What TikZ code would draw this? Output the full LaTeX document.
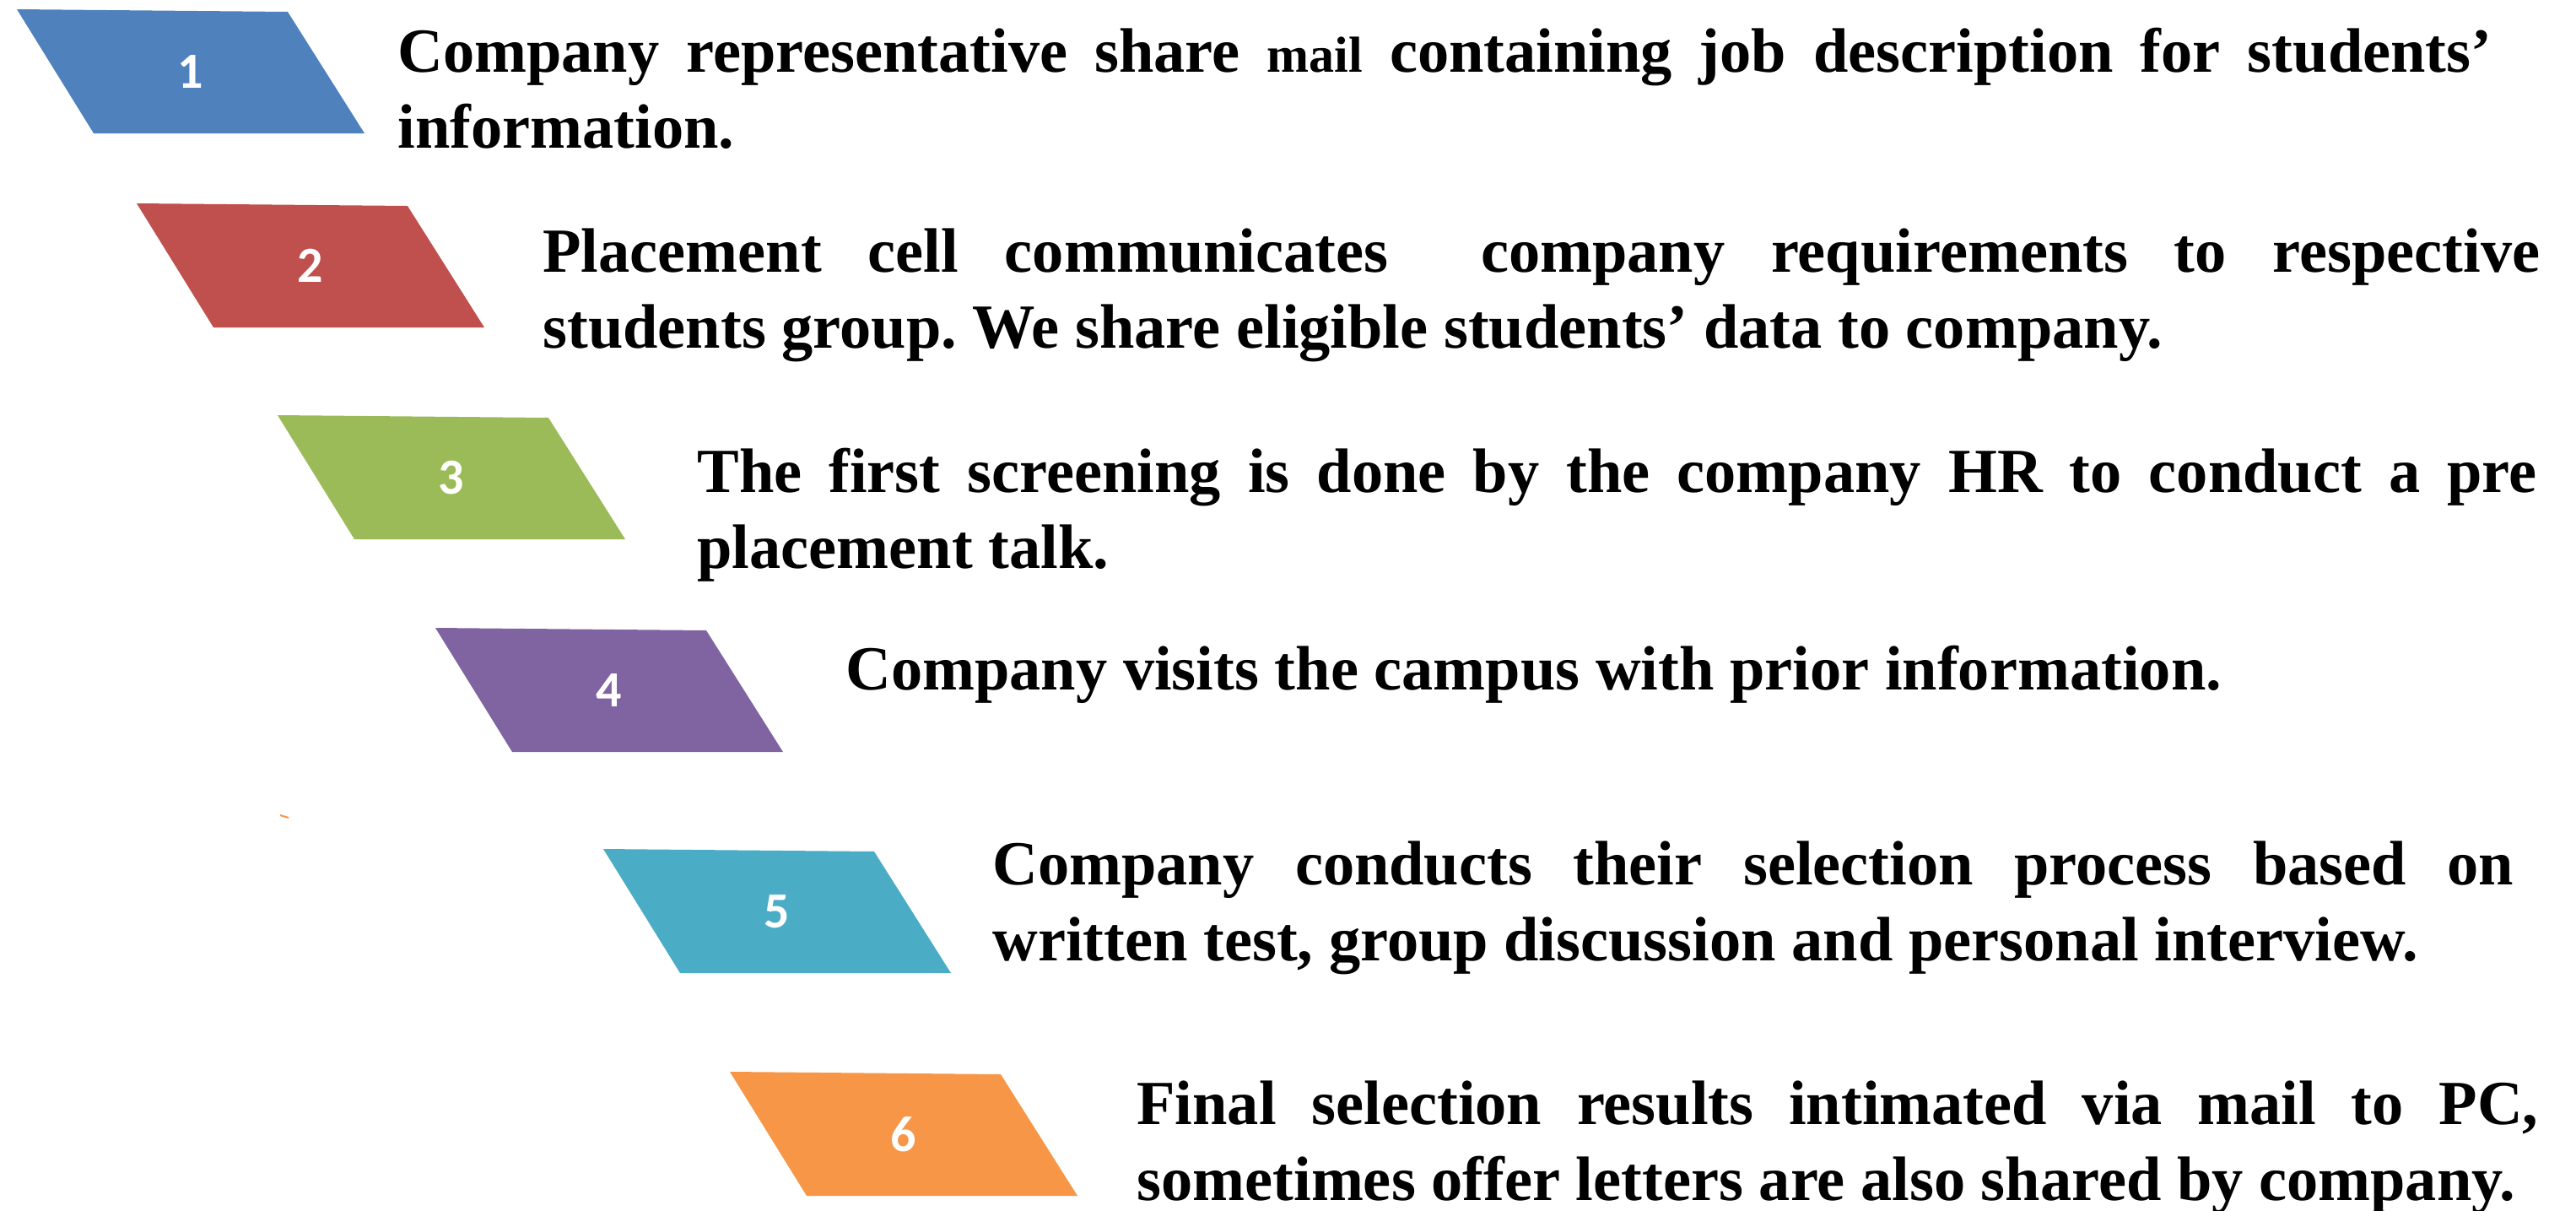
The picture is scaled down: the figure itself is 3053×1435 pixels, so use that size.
\documentclass[tikz,border=0pt]{standalone}
\usepackage{fontspec}
\setmainfont{Liberation Serif}
\newfontfamily\numfont{Carlito}
\usetikzlibrary{positioning, calc}

\definecolor{stageblue}{HTML}{4F81BD}
\definecolor{stagered}{HTML}{C0504D}
\definecolor{stagegreen}{HTML}{9BBB59}
\definecolor{stagepurple}{HTML}{8064A2}
\definecolor{stageaqua}{HTML}{4BACC6}
\definecolor{stageorange}{HTML}{F79646}

\hyphenpenalty=10000
\frenchspacing
\newcommand{\mailsize}{\fontsize{30}{30}\selectfont}
\newcommand{\fullline}[2]{{\spaceskip=0pt\xspaceskip=0pt\makebox[#1][s]{#2}}}

\begin{document}
\begin{tikzpicture}[x=0.5pt, y=-0.5pt,
    stagenum/.style={font=\numfont\bfseries\fontsize{30}{30}\selectfont, text=white, inner sep=0pt},
    stagetext/.style={anchor=base west, inner sep=0pt, align=left, text width=1300pt,
      font=\bfseries\fontsize{37.2}{45}\selectfont,
      execute at begin node={\spaceskip=0pt\xspaceskip=0pt}}]
  \useasboundingbox (0,0) rectangle (3053,1435);

  % slanted boxes
  \fill[stageblue] (20,11) -- (341,14) -- (432,158) -- (111,158) -- cycle;
  \fill[stagered] (162,241) -- (483,244) -- (574,388) -- (253,388) -- cycle;
  \fill[stagegreen] (329,492) -- (650,495) -- (741,639) -- (420,639) -- cycle;
  \fill[stagepurple] (516,744) -- (837,747) -- (928,891) -- (607,891) -- cycle;
  \fill[stageaqua] (715,1006) -- (1036,1009) -- (1127,1153) -- (806,1153) -- cycle;
  \fill[stageorange] (865,1270) -- (1186,1273) -- (1277,1417) -- (956,1417) -- cycle;
  \draw[stageorange, line width=1pt] (332,966) -- (342,969);

  \node[stagenum] (num1) at (226,85) {1};
  \node[stagenum] (num2) at (368,315) {2};
  \node[stagenum] (num3) at (535,566) {3};
  \node[stagenum] (num4) at (722,818) {4};
  \node[stagenum] (num5) at (921,1080) {5};
  \node[stagenum] (num6) at (1071,1344) {6};

  % step texts
  \node[stagetext] (text1) at (471,85)
    {\fullline{1241pt}{Company representative share {\mailsize mail} containing job description for students’}\\information.};
  \node[stagetext] (text2) at (643,322)
    {\fullline{1183.5pt}{Placement cell communicates\ \ company requirements to respective}\\students group. We share eligible students’ data to company.};
  \node[stagetext] (text3) at (826,583)
    {\fullline{1090pt}{The first screening is done by the company HR to conduct a pre}\\placement talk.};
  \node[stagetext] (text4) at (1002,817)
    {Company visits the campus with prior information.};
  \node[stagetext] (text5) at (1176,1048)
    {\fullline{901.5pt}{Company conducts their selection process based on}\\written test, group discussion and personal interview.};
  \node[stagetext] (text6) at (1347,1332)
    {\fullline{830.5pt}{Final selection results intimated via mail to PC,}\\sometimes offer letters are also shared by company.};
\end{tikzpicture}
\end{document}
